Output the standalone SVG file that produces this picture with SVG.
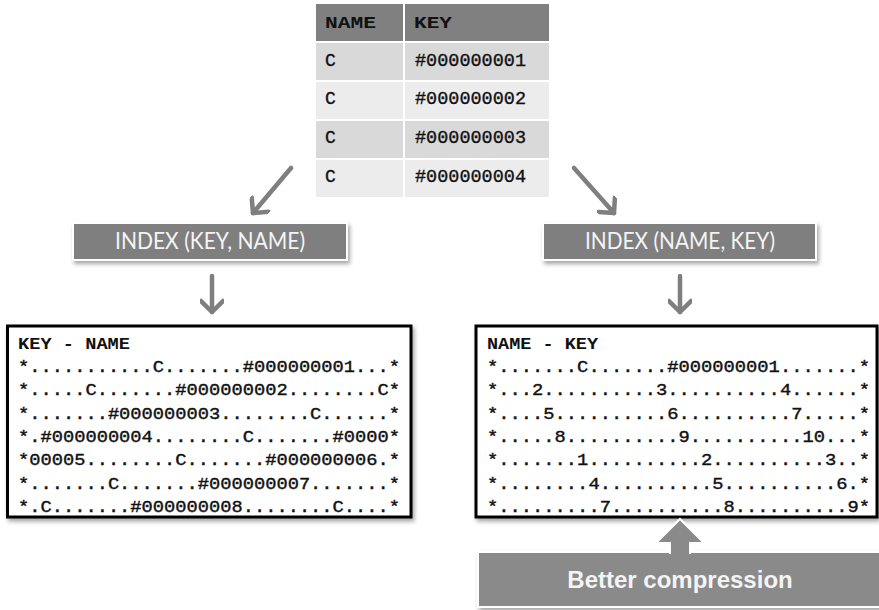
<svg xmlns="http://www.w3.org/2000/svg" width="879" height="610" viewBox="0 0 879 610">
<defs>
<style>
.hdr{fill:#808080}
.r1{fill:#d9d9d9}
.r2{fill:#ececec}
.th{font-family:"Liberation Mono","Courier New",monospace;font-weight:bold;font-size:17px;fill:#111}
.td{font-family:"Liberation Mono","Courier New",monospace;font-size:18px;fill:#111;stroke:#111;stroke-width:0.35}
.idx{fill:#7f7f7f;stroke:#ffffff;stroke-width:2}
.idxt{font-family:Lato,"Open Sans",sans-serif;font-size:23px;fill:#f4f4f4}
.code{fill:#ffffff;stroke:#000000;stroke-width:3}
.ch{font-family:"Liberation Mono","Courier New",monospace;font-weight:bold;font-size:16px;fill:#111}
.cr{font-family:"Liberation Mono","Courier New",monospace;font-size:17px;fill:#111;stroke:#111;stroke-width:0.4}
.conn{stroke:#7f7f7f;stroke-width:4.5;fill:none;stroke-linecap:round}
.bc{fill:#8a8a8a;stroke:#ffffff;stroke-width:2}
.bct{font-family:"Liberation Sans",Arial,sans-serif;font-weight:bold;font-size:24px;fill:#f4f4f4}
</style>
<marker id="ah" viewBox="0 0 24 24" markerWidth="24" markerHeight="24" markerUnits="userSpaceOnUse" refX="20" refY="12" orient="auto">
<path d="M9,1 L20,12 L9,23" fill="none" stroke="#7f7f7f" stroke-width="4.5" stroke-linecap="round" stroke-linejoin="round"/>
</marker>
<filter id="sh" x="-10%" y="-10%" width="120%" height="130%">
<feDropShadow dx="2" dy="3" stdDeviation="2" flood-color="#000" flood-opacity="0.35"/>
</filter>
</defs>
<rect width="879" height="610" fill="#ffffff"/>

<g id="table">
<rect class="hdr" x="316" y="4" width="87" height="37"/>
<rect class="hdr" x="405" y="4" width="144" height="37"/>
<rect class="r1" x="316" y="43" width="87" height="37"/>
<rect class="r1" x="405" y="43" width="144" height="37"/>
<rect class="r2" x="316" y="82" width="87" height="37"/>
<rect class="r2" x="405" y="82" width="144" height="37"/>
<rect class="r1" x="316" y="121" width="87" height="37"/>
<rect class="r1" x="405" y="121" width="144" height="37"/>
<rect class="r2" x="316" y="160" width="87" height="37"/>
<rect class="r2" x="405" y="160" width="144" height="37"/>
<text class="th" x="325" y="28" textLength="51" lengthAdjust="spacingAndGlyphs">NAME</text>
<text class="th" x="414" y="28" textLength="38" lengthAdjust="spacingAndGlyphs">KEY</text>
<text class="td" x="325" y="66">C</text>
<text class="td" x="415" y="66" textLength="111" lengthAdjust="spacingAndGlyphs">#000000001</text>
<text class="td" x="325" y="104">C</text>
<text class="td" x="415" y="104" textLength="111" lengthAdjust="spacingAndGlyphs">#000000002</text>
<text class="td" x="325" y="143">C</text>
<text class="td" x="415" y="143" textLength="111" lengthAdjust="spacingAndGlyphs">#000000003</text>
<text class="td" x="325" y="182">C</text>
<text class="td" x="415" y="182" textLength="111" lengthAdjust="spacingAndGlyphs">#000000004</text>
</g>

<g id="index-key-name">
<rect class="idx" x="73" y="223" width="274" height="37" filter="url(#sh)"/>
<text class="idxt" x="115" y="249" textLength="190" lengthAdjust="spacingAndGlyphs">INDEX (KEY, NAME)</text>
</g>

<g id="index-name-key">
<rect class="idx" x="543" y="223" width="273" height="37" filter="url(#sh)"/>
<text class="idxt" x="585" y="249" textLength="190" lengthAdjust="spacingAndGlyphs">INDEX (NAME, KEY)</text>
</g>

<g id="block-key-name">
<rect class="code" x="7.5" y="326" width="403.5" height="191" filter="url(#sh)"/>
<text class="ch" x="18" y="349" textLength="112" lengthAdjust="spacingAndGlyphs">KEY - NAME</text>
<text class="cr" x="18" y="372" textLength="382" lengthAdjust="spacingAndGlyphs">*...........C.......#000000001...*</text>
<text class="cr" x="18" y="395.3" textLength="382" lengthAdjust="spacingAndGlyphs">*.....C.......#000000002........C*</text>
<text class="cr" x="18" y="418.6" textLength="382" lengthAdjust="spacingAndGlyphs">*.......#000000003........C......*</text>
<text class="cr" x="18" y="441.9" textLength="382" lengthAdjust="spacingAndGlyphs">*.#000000004........C.......#0000*</text>
<text class="cr" x="18" y="465.2" textLength="382" lengthAdjust="spacingAndGlyphs">*00005........C.......#000000006.*</text>
<text class="cr" x="18" y="488.5" textLength="382" lengthAdjust="spacingAndGlyphs">*.......C.......#000000007.......*</text>
<text class="cr" x="18" y="511.8" textLength="382" lengthAdjust="spacingAndGlyphs">*.C.......#000000008........C....*</text>
</g>

<g id="block-name-key">
<rect class="code" x="476" y="326" width="401" height="191" filter="url(#sh)"/>
<text class="ch" x="487" y="349" textLength="111" lengthAdjust="spacingAndGlyphs">NAME - KEY</text>
<text class="cr" x="487" y="372" textLength="383" lengthAdjust="spacingAndGlyphs">*.......C.......#000000001.......*</text>
<text class="cr" x="487" y="395.3" textLength="383" lengthAdjust="spacingAndGlyphs">*...2..........3..........4......*</text>
<text class="cr" x="487" y="418.6" textLength="383" lengthAdjust="spacingAndGlyphs">*....5..........6..........7.....*</text>
<text class="cr" x="487" y="441.9" textLength="383" lengthAdjust="spacingAndGlyphs">*.....8..........9..........10...*</text>
<text class="cr" x="487" y="465.2" textLength="383" lengthAdjust="spacingAndGlyphs">*.......1..........2..........3..*</text>
<text class="cr" x="487" y="488.5" textLength="383" lengthAdjust="spacingAndGlyphs">*........4..........5..........6.*</text>
<text class="cr" x="487" y="511.8" textLength="383" lengthAdjust="spacingAndGlyphs">*.........7..........8..........9*</text>
</g>

<g id="better-compression">
<rect class="bc" x="478" y="552" width="410" height="55" filter="url(#sh)"/>
<polygon class="bc" points="680,519 704,543 690,543 690,553 670,553 670,543 656,543"/>
<rect x="671" y="550" width="18" height="4" fill="#8a8a8a"/>
<text class="bct" x="680" y="588" text-anchor="middle">Better compression</text>
</g>

<g id="connectors">
<line class="conn" x1="291" y1="168" x2="253" y2="213" marker-end="url(#ah)"/>
<line class="conn" x1="574" y1="168" x2="614" y2="213" marker-end="url(#ah)"/>
<line class="conn" x1="212" y1="276" x2="212" y2="312" marker-end="url(#ah)"/>
<line class="conn" x1="680" y1="276" x2="680" y2="312" marker-end="url(#ah)"/>
</g>
</svg>
